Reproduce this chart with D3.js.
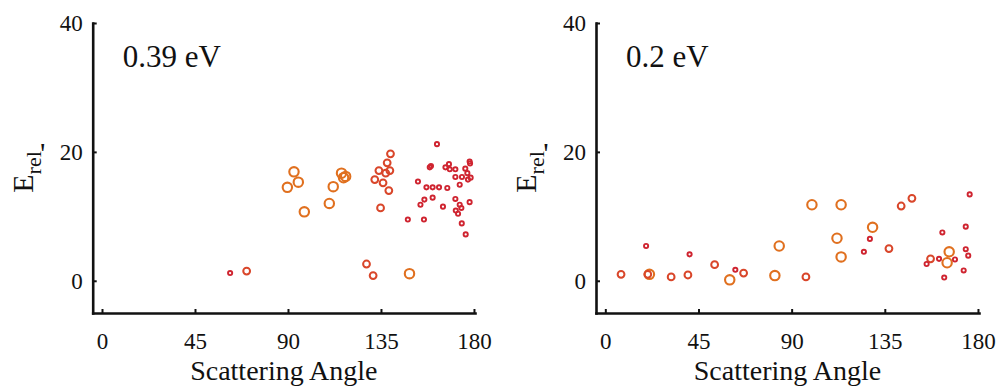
<!DOCTYPE html>
<html>
<head>
<meta charset="utf-8">
<script src="https://cdn.jsdelivr.net/npm/d3@7/dist/d3.min.js"></script>
<style>
  html, body { margin: 0; padding: 0; background: #fff; }
  svg { display: block; }
  text { font-family: "Liberation Serif", "Times New Roman", serif; fill: #111; }
</style>
</head>
<body>
<svg id="chart" width="1000" height="388"></svg>
<script>
// ---------- data ----------
const xTicks = [0, 45, 90, 135, 180];
const yTicks = [0, 20, 40];
const xLabel = "Scattering Angle";
const panelLabels = ["0.39 eV", "0.2 eV"];

// panel 1 (0.39 eV)
const angle1 = [62.0, 70.0, 89.7, 92.9, 95.0, 97.9, 110.0, 111.9, 115.9, 117.9, 116.9,
  128.0, 131.2, 132.0, 134.0, 134.8, 136.0, 137.3, 138.0, 138.8, 139.3, 139.6, 148.0, 148.8,
  162.1, 158.6, 159.2, 166.2, 167.9, 168.3, 171.0, 177.9, 178.1, 175.8, 176.8, 171.0, 174.2,
  178.4, 177.1, 173.1, 152.9, 157.0, 160.0, 163.1, 167.1, 156.0, 154.1, 160.0, 165.0, 171.0,
  173.1, 177.9, 171.2, 173.9, 172.3, 155.8, 174.1, 176.0];
const energy1 = [1.2, 1.5, 14.5, 16.9, 15.3, 10.7, 12.0, 14.6, 16.7, 16.2, 16.0,
  2.6, 0.8, 15.7, 17.1, 11.3, 15.2, 16.7, 18.3, 14.0, 17.1, 19.7, 9.5, 1.1,
  21.2, 17.6, 17.8, 17.6, 18.1, 17.3, 17.3, 18.5, 18.2, 17.4, 16.7, 16.1, 16.1,
  16.0, 15.7, 14.9, 15.4, 14.5, 14.5, 14.5, 14.4, 12.6, 11.8, 12.9, 11.5, 12.7,
  11.8, 12.2, 10.9, 11.3, 10.4, 9.5, 8.9, 7.2];
const type1 = ["S", "M", "L", "L", "L", "L", "L", "L", "L", "L", "L",
  "M", "M", "M", "M", "M", "M", "M", "M", "M", "M", "M", "S", "L",
  "S", "S", "S", "S", "S", "S", "S", "S", "S", "S", "S", "S", "S",
  "S", "S", "S", "S", "S", "S", "S", "S", "S", "S", "S", "S", "S",
  "S", "S", "S", "S", "S", "S", "S", "S"];

// panel 2 (0.2 eV)
const angle2 = [7.6, 19.7, 20.5, 21.3, 31.8, 39.9, 40.7, 52.8, 60.1, 62.8, 66.8, 81.9, 84.0,
  96.9, 99.8, 111.9, 113.9, 113.9, 124.9, 127.8, 129.1, 137.0, 142.9, 148.1, 155.2, 157.1,
  161.2, 162.8, 163.7, 165.1, 166.1, 168.9, 173.1, 174.1, 174.1, 175.3, 176.0];
const energy2 = [1.0, 5.4, 1.0, 1.0, 0.6, 0.9, 4.1, 2.5, 0.15, 1.7, 1.2, 0.8, 5.4,
  0.6, 11.8, 6.6, 11.8, 3.7, 4.5, 6.5, 8.3, 5.0, 11.6, 12.8, 2.6, 3.4,
  3.4, 7.5, 0.5, 2.8, 4.5, 3.3, 1.6, 4.9, 8.4, 3.9, 13.4];
const type2 = ["M", "S", "M", "L", "M", "M", "S", "M", "L", "S", "M", "L", "L",
  "M", "L", "L", "L", "L", "S", "S", "L", "M", "M", "M", "S", "M",
  "S", "S", "S", "L", "L", "S", "S", "S", "S", "S", "S"];

// ---------- styling ----------
const markStyle = {
  L: { r: 4.7, color: "#E0701F", w: 2.1 },
  M: { r: 3.4, color: "#D9462A", w: 2.0 },
  S: { r: 2.1, color: "#CF2430", w: 1.9 }
};
const FONT = '"Liberation Serif", "Times New Roman", serif';

const svg = d3.select("#chart");

function panel(x0, x1, label, angles, energies, types) {
  const x = d3.scaleLinear().domain([-4.5, 180.5]).range([x0, x1]);
  const y = d3.scaleLinear().domain([-5, 40]).range([313, 23]);
  const g = svg.append("g");

  // axes
  const gx = g.append("g").attr("transform", `translate(0,${y(-5)})`)
    .call(d3.axisBottom(x).tickValues(xTicks).tickSize(-4).tickSizeOuter(0).tickPadding(20));
  const gy = g.append("g").attr("transform", `translate(${x(-4.5)},0)`)
    .call(d3.axisLeft(y).tickValues(yTicks).tickSize(-4).tickSizeOuter(0).tickPadding(10));
  [gx, gy].forEach(a => {
    a.attr("font-family", FONT);
    a.select(".domain").attr("stroke", "#111").attr("stroke-width", 2.6).attr("stroke-linecap", "square");
    a.selectAll(".tick line").attr("stroke", "#111").attr("stroke-width", 2);
    a.selectAll(".tick text").attr("font-size", 23).attr("fill", "#222")
      .style("font-family", FONT);
  });

  // points
  const data = angles.map((a, i) => ({ a, e: energies[i], t: types[i] }));
  const order = { L: 0, M: 1, S: 2 };
  data.sort((p, q) => order[p.t] - order[q.t]);
  g.selectAll("circle.pt").data(data).enter().append("circle")
    .attr("class", "pt")
    .attr("cx", d => x(d.a)).attr("cy", d => y(d.e))
    .attr("r", d => markStyle[d.t].r)
    .attr("fill", "none")
    .attr("stroke", d => markStyle[d.t].color)
    .attr("stroke-width", d => markStyle[d.t].w);

  // panel label
  g.append("text").attr("x", x(-4.5) + 30).attr("y", 67)
    .attr("font-size", 31).style("font-family", FONT).text(label);

  // x label
  g.append("text").attr("x", (x(-4.5) + x(180.5)) / 2).attr("y", 380)
    .attr("text-anchor", "middle").attr("font-size", 28).attr("fill", "#222")
    .style("font-family", FONT).text(xLabel);

  // y label  E_rel '
  const lx = x(-4.5) - 60;
  const yl = g.append("text")
    .attr("transform", `translate(${lx},172) rotate(-90)`)
    .attr("text-anchor", "middle").attr("font-size", 30).attr("fill", "#222")
    .style("font-family", FONT);
  yl.append("tspan").text("E");
  yl.append("tspan").attr("font-size", 22).attr("dy", 8).text("rel");
  g.append("text").attr("x", lx + 10).attr("y", 163)
    .attr("text-anchor", "middle").attr("font-size", 30).attr("fill", "#222")
    .style("font-family", FONT).text("'");
}

panel(92.7, 475, panelLabels[0], angle1, energy1, type1);
panel(596, 979, panelLabels[1], angle2, energy2, type2);
</script>
</body>
</html>
